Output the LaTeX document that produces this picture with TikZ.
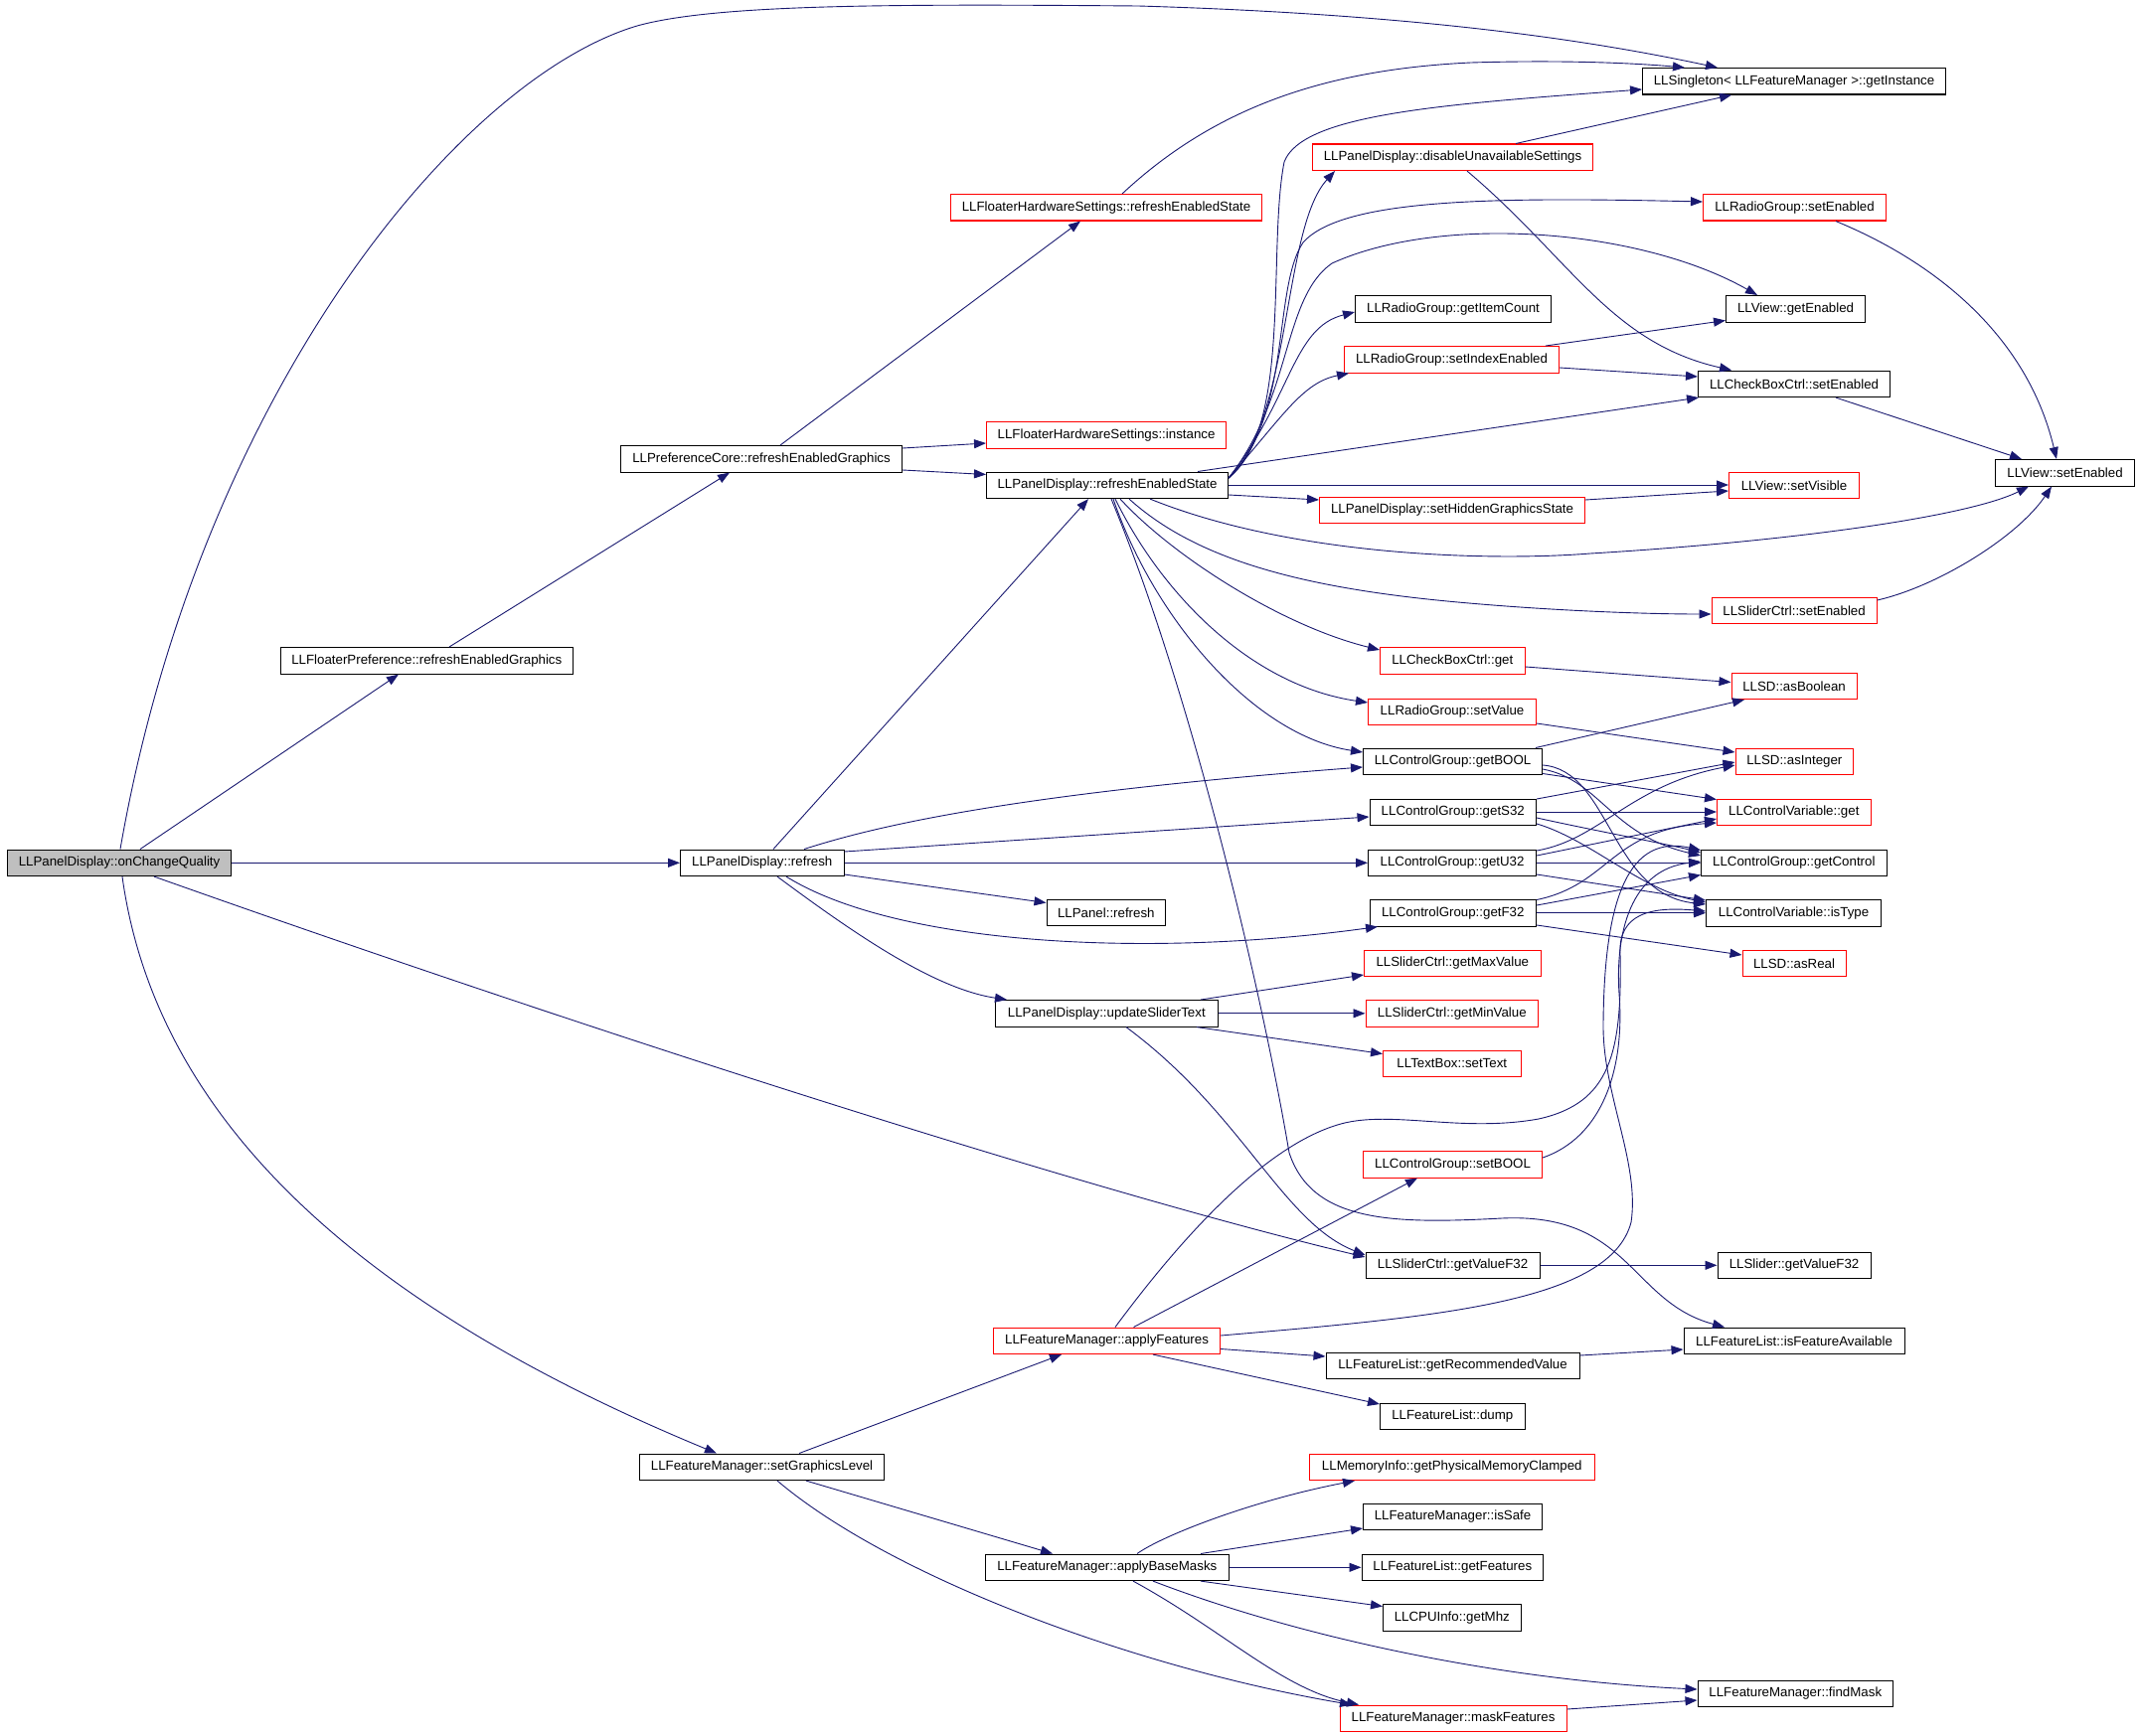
\documentclass[tikz,border=0pt]{standalone}
\usepackage{fontspec}
\setmainfont{Liberation Sans}
\usetikzlibrary{arrows.meta,calc}
\definecolor{edgeblue}{HTML}{191970}
\definecolor{grayfill}{HTML}{BFBFBF}
\begin{document}
\begin{tikzpicture}[x=1pt,y=-1pt,
  nbox/.style={draw=black,line width=1.1pt,minimum height=26.5pt,inner sep=0pt,anchor=north west,font=\fontsize{13.3pt}{16pt}\selectfont,text=black},
  rbox/.style={nbox,draw=red},
  gbox/.style={nbox,fill=grayfill},
  edg/.style={draw=edgeblue,line width=0.9pt,-{Triangle[length=12pt,width=9pt]}}]
\useasboundingbox[fill=white] (0,0) rectangle (2152,1747);
% nodes
\node[gbox,minimum width=225pt] (oq) at (7,854.5) {LLPanelDisplay::onChangeQuality};
\node[nbox,minimum width=294.5pt] (fp) at (281.5,651) {LLFloaterPreference::refreshEnabledGraphics};
\node[nbox,minimum width=283pt] (pc) at (624,448) {LLPreferenceCore::refreshEnabledGraphics};
\node[nbox,minimum width=164.5pt] (pr) at (684,854.5) {LLPanelDisplay::refresh};
\node[nbox,minimum width=246pt] (sgl) at (643,1462.5) {LLFeatureManager::setGraphicsLevel};
\node[rbox,minimum width=313pt] (fhr) at (956,195) {LLFloaterHardwareSettings::refreshEnabledState};
\node[rbox,minimum width=241pt] (fhi) at (992,424) {LLFloaterHardwareSettings::instance};
\node[nbox,minimum width=243pt] (pdr) at (992,474.5) {LLPanelDisplay::refreshEnabledState};
\node[nbox,minimum width=119.5pt] (pnr) at (1052.5,904.5) {LLPanel::refresh};
\node[nbox,minimum width=223.5pt] (ust) at (1001,1006) {LLPanelDisplay::updateSliderText};
\node[rbox,minimum width=228pt] (af) at (999,1335.5) {LLFeatureManager::applyFeatures};
\node[nbox,minimum width=244.5pt] (abm) at (991,1563.5) {LLFeatureManager::applyBaseMasks};
\node[rbox,minimum width=282pt] (dus) at (1320,144.5) {LLPanelDisplay::disableUnavailableSettings};
\node[nbox,minimum width=197pt] (gic) at (1363,297) {LLRadioGroup::getItemCount};
\node[rbox,minimum width=216pt] (sie) at (1352,348) {LLRadioGroup::setIndexEnabled};
\node[rbox,minimum width=267pt] (shg) at (1327,499.5) {LLPanelDisplay::setHiddenGraphicsState};
\node[rbox,minimum width=145.5pt] (cbg) at (1388,651) {LLCheckBoxCtrl::get};
\node[rbox,minimum width=169pt] (rgsv) at (1376,702.5) {LLRadioGroup::setValue};
\node[nbox,minimum width=180pt] (gb) at (1371,752.5) {LLControlGroup::getBOOL};
\node[nbox,minimum width=167.5pt] (gs) at (1377.5,803.5) {LLControlGroup::getS32};
\node[nbox,minimum width=169pt] (gu) at (1376,854.5) {LLControlGroup::getU32};
\node[nbox,minimum width=167.5pt] (gf) at (1377.5,905) {LLControlGroup::getF32};
\node[rbox,minimum width=177.5pt] (gmax) at (1372,955.5) {LLSliderCtrl::getMaxValue};
\node[rbox,minimum width=173.5pt] (gmin) at (1373.5,1006) {LLSliderCtrl::getMinValue};
\node[rbox,minimum width=138.5pt] (tst) at (1391,1056.5) {LLTextBox::setText};
\node[rbox,minimum width=180pt] (sbool) at (1371,1158) {LLControlGroup::setBOOL};
\node[nbox,minimum width=175pt] (sgv) at (1373.5,1259.5) {LLSliderCtrl::getValueF32};
\node[nbox,minimum width=255pt] (grv) at (1333.5,1360.5) {LLFeatureList::getRecommendedValue};
\node[nbox,minimum width=145.5pt] (dump) at (1388,1411.5) {LLFeatureList::dump};
\node[rbox,minimum width=286.5pt] (gpm) at (1317,1462.5) {LLMemoryInfo::getPhysicalMemoryClamped};
\node[nbox,minimum width=180pt] (safe) at (1371,1512.5) {LLFeatureManager::isSafe};
\node[nbox,minimum width=182.5pt] (gfeat) at (1369.5,1563.5) {LLFeatureList::getFeatures};
\node[nbox,minimum width=138.5pt] (mhz) at (1391,1614) {LLCPUInfo::getMhz};
\node[rbox,minimum width=228pt] (mf) at (1347.5,1715.5) {LLFeatureManager::maskFeatures};
\node[nbox,minimum width=305pt] (sing) at (1652,68) {LLSingleton< LLFeatureManager >::getInstance};
\node[rbox,minimum width=184pt] (rgse) at (1713,195) {LLRadioGroup::setEnabled};
\node[nbox,minimum width=140pt] (vge) at (1736,297) {LLView::getEnabled};
\node[nbox,minimum width=193pt] (cbse) at (1708,372.5) {LLCheckBoxCtrl::setEnabled};
\node[rbox,minimum width=131pt] (vsv) at (1739,474.5) {LLView::setVisible};
\node[rbox,minimum width=166pt] (scse) at (1721.5,600.5) {LLSliderCtrl::setEnabled};
\node[rbox,minimum width=126pt] (asb) at (1741.5,676.5) {LLSD::asBoolean};
\node[rbox,minimum width=118.5pt] (asi) at (1745.5,752.5) {LLSD::asInteger};
\node[rbox,minimum width=154.5pt] (cvg) at (1727,803.5) {LLControlVariable::get};
\node[nbox,minimum width=186.5pt] (gctl) at (1711,854.5) {LLControlGroup::getControl};
\node[nbox,minimum width=176pt] (ist) at (1716,905) {LLControlVariable::isType};
\node[rbox,minimum width=104pt] (asr) at (1752.5,955.5) {LLSD::asReal};
\node[nbox,minimum width=154pt] (sl) at (1727.5,1259.5) {LLSlider::getValueF32};
\node[nbox,minimum width=222pt] (fia) at (1693.5,1335.5) {LLFeatureList::isFeatureAvailable};
\node[nbox,minimum width=196.5pt] (fm) at (1707.5,1690.5) {LLFeatureManager::findMask};
\node[nbox,minimum width=140pt] (vse) at (2007,462) {LLView::setEnabled};
% edges from onChangeQuality
\draw[edg] ($(oq.north west)+(114,0)$) .. controls (200,400) and (460,80) .. (641,26) .. controls (720,4) and (900,4) .. (1145,6) .. controls (1450,15) and (1620,45) .. ($(sing.north west)+(76,0)$);
\draw[edg] ($(oq.north west)+(134,0)$) -- ($(fp.south west)+(119.5,0)$);
\draw[edg] (oq.east) -- (pr.west);
\draw[edg] ($(oq.south west)+(148,0)$) .. controls (600,1040) and (1100,1200) .. ($(sgv.north west)+(0,5.5)$);
\draw[edg] ($(oq.south west)+(116,0)$) .. controls (160,1150) and (400,1330) .. ($(sgl.north west)+(78,0)$);
% preference chain
\draw[edg] ($(fp.north west)+(170.5,0)$) -- ($(pc.south west)+(110,0)$);
\draw[edg] ($(pc.north west)+(161,0)$) -- ($(fhr.south west)+(131,0)$);
\draw[edg] ($(pc.north east)+(0,3)$) -- ($(fhi.north west)+(0,22)$);
\draw[edg] ($(pc.north east)+(0,25)$) -- ($(pdr.north west)+(0,3)$);
\draw[edg] ($(fhr.north west)+(173,0)$) .. controls (1220,110) and (1330,70) .. (1480,63) .. controls (1580,60) and (1650,64) .. ($(sing.north west)+(43,0)$);
% refreshEnabledState
\draw[edg] ($(pdr.north east)+(0,6.5)$) .. controls (1300,430) and (1275,250) .. (1292,163) .. controls (1310,115) and (1450,105) .. ($(sing.north west)+(0,22)$);
\draw[edg] ($(pdr.north east)+(0,6.5)$) .. controls (1300,420) and (1290,230) .. ($(dus.south west)+(23,0)$);
\draw[edg] ($(pdr.north east)+(0,6.5)$) .. controls (1300,420) and (1280,290) .. (1311,244) .. controls (1350,200) and (1500,198) .. ($(rgse.north west)+(0,8)$);
\draw[edg] ($(pdr.north east)+(0,6.5)$) .. controls (1300,400) and (1290,300) .. (1340,265) .. controls (1450,215) and (1650,230) .. ($(vge.north west)+(32,0)$);
\draw[edg] ($(pdr.north east)+(0,6.5)$) .. controls (1300,400) and (1300,330) .. ($(gic.north west)+(0,17)$);
\draw[edg] ($(pdr.north east)+(0,6.5)$) .. controls (1290,420) and (1310,385) .. ($(sie.south west)+(5,0)$);
\draw[edg] ($(pdr.north west)+(213,0)$) -- ($(cbse.south west)+(1,0)$);
\draw[edg] ($(pdr.north east)+(0,13.5)$) -- ($(vsv.north west)+(0,13.5)$);
\draw[edg] ($(pdr.north east)+(0,23.5)$) -- ($(shg.north west)+(0,3.5)$);
\draw[edg] ($(pdr.south west)+(165,0)$) .. controls (1300,560) and (1500,565) .. (1600,557) .. controls (1800,545) and (1980,520) .. ($(vse.south west)+(34,0)$);
\draw[edg] ($(pdr.south west)+(144,0)$) .. controls (1200,560) and (1300,590) .. (1456,605) .. controls (1550,614) and (1650,618) .. ($(scse.north west)+(0,17.5)$);
\draw[edg] ($(pdr.south west)+(135,0)$) .. controls (1180,560) and (1290,630) .. ($(cbg.north west)+(0,3)$);
\draw[edg] ($(pdr.south west)+(130,0)$) .. controls (1170,600) and (1260,690) .. ($(rgsv.north west)+(0,4.5)$);
\draw[edg] ($(pdr.south west)+(128,0)$) .. controls (1160,620) and (1260,740) .. ($(gb.north west)+(0,4.5)$);
\draw[edg] ($(pdr.south west)+(126,0)$) .. controls (1200,700) and (1270,1000) .. (1297,1160) .. controls (1320,1230) and (1400,1232) .. (1511,1226) .. controls (1640,1220) and (1640,1310) .. ($(fia.north west)+(41.5,0)$);
% second level
\draw[edg] ($(dus.north west)+(205,0)$) -- ($(sing.south west)+(90,0)$);
\draw[edg] ($(dus.south west)+(156,0)$) .. controls (1580,260) and (1620,345) .. ($(cbse.north west)+(34,0)$);
\draw[edg] ($(rgse.south west)+(134,0)$) .. controls (1950,265) and (2040,340) .. ($(vse.north west)+(62,0)$);
\draw[edg] ($(sie.north west)+(203,0)$) -- ($(vge.north west)+(0,25.5)$);
\draw[edg] ($(sie.north east)+(0,22)$) -- ($(cbse.north west)+(0,6.5)$);
\draw[edg] ($(cbse.south west)+(139,0)$) -- ($(vse.north west)+(27,0)$);
\draw[edg] ($(shg.north east)+(0,3.5)$) -- ($(vsv.north west)+(0,19.5)$);
\draw[edg] ($(scse.north east)+(0,3.5)$) .. controls (1950,590) and (2030,540) .. ($(vse.south west)+(57,0)$);
\draw[edg] ($(cbg.north east)+(0,20)$) -- ($(asb.north west)+(0,10)$);
\draw[edg] ($(rgsv.north east)+(0,25.5)$) -- ($(asi.north west)+(0,4.5)$);
% control group getters
\draw[edg] ($(gb.north west)+(174,0)$) -- ($(asb.south west)+(13.5,0)$);
\draw[edg] ($(gb.north east)+(0,26)$) -- ($(cvg.north west)+(0,1)$);
\draw[edg] ($(gb.north east)+(0,21.5)$) .. controls (1610,785) and (1620,840) .. ($(gctl.north west)+(0,6.5)$);
\draw[edg] ($(gb.north east)+(0,17.5)$) .. controls (1620,775) and (1620,900) .. ($(ist.north west)+(0,5)$);
\draw[edg] ($(gs.north east)+(0,0.5)$) -- ($(asi.north west)+(0,14.5)$);
\draw[edg] ($(gs.north east)+(0,13.5)$) -- ($(cvg.north west)+(0,13.5)$);
\draw[edg] ($(gs.north east)+(0,19.5)$) .. controls (1600,835) and (1680,850) .. ($(gctl.north west)+(0,3.5)$);
\draw[edg] ($(gs.north east)+(0,25.5)$) .. controls (1600,845) and (1650,895) .. ($(ist.north west)+(0,3)$);
\draw[edg] ($(gu.north east)+(0,1.5)$) .. controls (1610,845) and (1640,790) .. ($(asi.north west)+(0,17.5)$);
\draw[edg] ($(gu.north east)+(0,6.5)$) -- ($(cvg.north west)+(0,20.5)$);
\draw[edg] (gu.east) -- (gctl.west);
\draw[edg] ($(gu.north east)+(0,25.5)$) -- ($(ist.north west)+(0,1)$);
\draw[edg] ($(gf.north east)+(0,0.5)$) .. controls (1620,890) and (1620,835) .. ($(cvg.north west)+(0,24.5)$);
\draw[edg] ($(gf.north east)+(0,6)$) -- ($(gctl.north west)+(0,26)$);
\draw[edg] (gf.east) -- (ist.west);
\draw[edg] ($(gf.north east)+(0,26)$) -- ($(asr.north west)+(0,5.5)$);
% refresh
\draw[edg] ($(pr.north west)+(94,0)$) -- ($(pdr.south west)+(103,0)$);
\draw[edg] ($(pr.north west)+(125,0)$) .. controls (870,835) and (1000,800) .. ($(gb.north west)+(0,19.5)$);
\draw[edg] ($(pr.north east)+(0,2.5)$) -- ($(gs.north west)+(0,18.5)$);
\draw[edg] (pr.east) -- (gu.west);
\draw[edg] ($(pr.north east)+(0,25.5)$) -- ($(pnr.north west)+(0,4)$);
\draw[edg] ($(pr.south west)+(107,0)$) .. controls (900,950) and (1150,965) .. ($(gf.south west)+(8.5,0)$);
\draw[edg] ($(pr.south west)+(98,0)$) .. controls (860,940) and (940,995) .. ($(ust.north west)+(12,0)$);
% updateSliderText
\draw[edg] ($(ust.north west)+(207,0)$) -- ($(gmax.north west)+(0,25.5)$);
\draw[edg] (ust.east) -- (gmin.west);
\draw[edg] ($(ust.south west)+(203,0)$) -- ($(tst.north west)+(0,4)$);
\draw[edg] ($(ust.south west)+(132,0)$) .. controls (1250,1120) and (1290,1230) .. ($(sgv.north west)+(0,3.5)$);
\draw[edg] (sgv.east) -- (sl.west);
% applyFeatures
\draw[edg] ($(af.north west)+(141.5,0)$) -- ($(sbool.south west)+(55,0)$);
\draw[edg] ($(af.north west)+(123,0)$) .. controls (1200,1230) and (1280,1150) .. (1349,1131) .. controls (1400,1117) and (1470,1140) .. (1548,1126) .. controls (1620,1110) and (1632,1060) .. (1630,960) .. controls (1628,920) and (1660,912) .. ($(ist.north west)+(0,12)$);
\draw[edg] ($(af.north east)+(0,8.5)$) .. controls (1450,1325) and (1620,1310) .. (1641,1230) .. controls (1650,1170) and (1612,1100) .. (1613,1030) .. controls (1614,900) and (1640,840) .. ($(gctl.north west)+(0,1)$);
\draw[edg] ($(sbool.north east)+(0,7)$) .. controls (1610,1145) and (1635,1080) .. (1629,1000) .. controls (1625,940) and (1640,875) .. ($(gctl.north west)+(0,12.5)$);
\draw[edg] ($(af.north east)+(0,22)$) -- ($(grv.north west)+(0,4.5)$);
\draw[edg] ($(af.south west)+(161,0)$) -- ($(dump.north west)+(0,1.5)$);
\draw[edg] ($(grv.north east)+(0,3.5)$) -- ($(fia.north west)+(0,22.5)$);
% setGraphicsLevel
\draw[edg] ($(sgl.north west)+(161,0)$) -- ($(af.south west)+(69,0)$);
\draw[edg] ($(sgl.south west)+(168,0)$) -- ($(abm.north west)+(68,0)$);
\draw[edg] ($(sgl.south west)+(139,0)$) .. controls (900,1590) and (1150,1680) .. ($(mf.north west)+(12.5,0)$);
% applyBaseMasks
\draw[edg] ($(abm.north west)+(153,0)$) .. controls (1170,1545) and (1260,1510) .. ($(gpm.south west)+(46,0)$);
\draw[edg] ($(abm.north west)+(217,0)$) -- ($(safe.north west)+(0,25.5)$);
\draw[edg] (abm.east) -- (gfeat.west);
\draw[edg] ($(abm.south west)+(217,0)$) -- ($(mhz.north west)+(0,2.5)$);
\draw[edg] ($(abm.south west)+(169,0)$) .. controls (1300,1645) and (1500,1690) .. ($(fm.north west)+(0,9.5)$);
\draw[edg] ($(abm.south west)+(149,0)$) .. controls (1230,1640) and (1290,1700) .. ($(mf.north west)+(19.5,0)$);
\draw[edg] ($(mf.north east)+(0,4.5)$) -- ($(fm.north west)+(0,20.5)$);
\end{tikzpicture}
\end{document}
